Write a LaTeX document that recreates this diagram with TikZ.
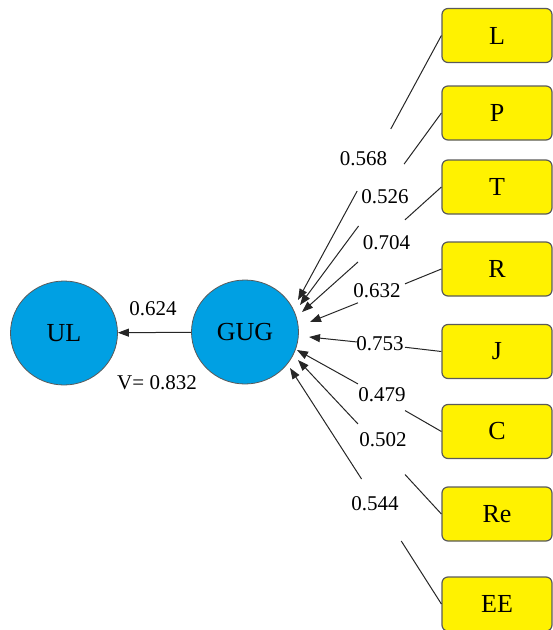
\documentclass[tikz,border=0pt]{standalone}
\usepackage{fontspec}
\setmainfont{Liberation Serif}
\usetikzlibrary{arrows.meta,shapes.geometric}
\definecolor{latentfill}{RGB}{0,160,227}
\definecolor{indicfill}{RGB}{255,242,0}
\definecolor{edgegray}{RGB}{90,90,90}
\begin{document}
\begin{tikzpicture}[x=1pt,y=-1pt,
  latentnode/.style={ellipse,draw=edgegray,line width=0.8pt,fill=latentfill,
    minimum width=107pt,minimum height=104pt,inner sep=0pt,
    font=\fontsize{26}{30}\selectfont},
  indicator/.style={rectangle,rounded corners=6pt,draw=edgegray,line width=1.2pt,
    fill=indicfill,minimum width=110pt,minimum height=54pt,
    font=\fontsize{26}{30}\selectfont},
  gapbox/.style={rectangle,minimum width=47pt,minimum height=62pt,inner sep=0pt,outer sep=0pt},
  coef/.style={font=\fontsize{21}{24}\selectfont,inner sep=0pt},
  link/.style={draw=black!85,line width=1pt},
  arr/.style={link,-{Triangle[length=11pt,width=8pt]}}
]
\useasboundingbox (0,0) rectangle (553,630);

% latent variables
\node[latentnode] (UL) at (64,333) {UL};
\node[latentnode] (GUG) at (245,332) {GUG};
\draw[arr] (GUG) -- (UL);
\node[coef] (c0) at (153,309) {0.624};
\node[coef] (v0) at (157,382.5) {V= 0.832};

% indicators, their loadings and the arrows into GUG
\foreach \n/\y/\gx/\gy/\tx/\ty/\v/\dx/\dy in {
  L/35.5/374/160/298/300/0.568/-10.5/1,
  P/113/381.5/195/300/305/0.526/3.5/-1.7,
  T/187/381.5/241/302/312/0.704/5/-2,
  R/269/381.5/293.4/310/322/0.632/-4.5/3,
  J/351.5/381.5/344.5/309/337/0.753/-1.5/1,
  C/431.5/381.5/397/297/350/0.479/0.5/2,
  Re/514/381.5/449/298/360/0.502/1.5/9,
  EE/604/381.5/510/290/368/0.544/-6.5/6}{
  \node[indicator] (\n) at (497,\y) {\n};
  \coordinate (t\n) at (\tx,\ty);
  \node[gapbox,label={[coef,xshift=\dx pt,yshift=\dy pt]center:\v}] (g\n) at (\gx,\gy) {};
  \draw[link] (\n.west) -- (g\n);
  \draw[arr] (g\n) -- (t\n);
}
\end{tikzpicture}
\end{document}
